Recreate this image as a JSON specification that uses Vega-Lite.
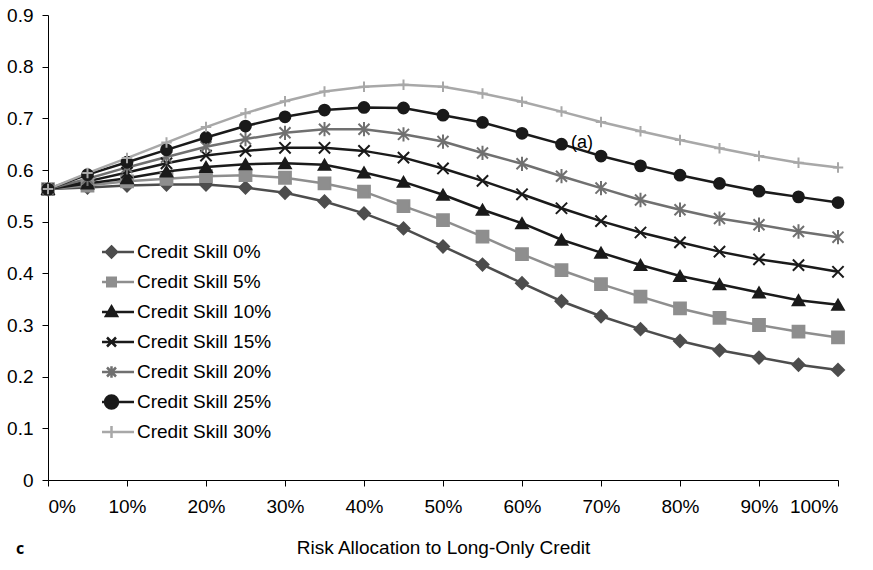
{
  "$schema": "https://vega.github.io/schema/vega-lite/v6.json",
  "width": 790,
  "height": 465,
  "autosize": {"type": "none"},
  "padding": {"left": 48, "top": 15, "right": 35, "bottom": 90},
  "config": {
    "view": {"stroke": null},
    "font": "Liberation Sans",
    "axis": {"grid": false, "domainColor": "#000000", "tickColor": "#000000", "labelColor": "#000000", "titleColor": "#000000", "labelFontSize": 19, "titleFontSize": 19, "titleFontWeight": "normal", "tickSize": 6, "domainWidth": 1, "tickWidth": 1}
  },
  "title": {"text": "c", "orient": "bottom", "anchor": "start", "frame": "group", "font": "Open Sans", "fontWeight": "bold", "fontSize": 16, "color": "#000000", "dx": -32, "offset": -16},
  "resolve": {"scale": {"shape": "independent"}, "legend": {"color": "independent", "shape": "independent", "stroke": "independent"}},
  "datasets": {
    "curves": [
      {"series": "Credit Skill 0%", "x": 0.00, "y": 0.563}, {"series": "Credit Skill 0%", "x": 0.05, "y": 0.566}, {"series": "Credit Skill 0%", "x": 0.10, "y": 0.570}, {"series": "Credit Skill 0%", "x": 0.15, "y": 0.572}, {"series": "Credit Skill 0%", "x": 0.20, "y": 0.572}, {"series": "Credit Skill 0%", "x": 0.25, "y": 0.566}, {"series": "Credit Skill 0%", "x": 0.30, "y": 0.556}, {"series": "Credit Skill 0%", "x": 0.35, "y": 0.539}, {"series": "Credit Skill 0%", "x": 0.40, "y": 0.516}, {"series": "Credit Skill 0%", "x": 0.45, "y": 0.487}, {"series": "Credit Skill 0%", "x": 0.50, "y": 0.452}, {"series": "Credit Skill 0%", "x": 0.55, "y": 0.417}, {"series": "Credit Skill 0%", "x": 0.60, "y": 0.381}, {"series": "Credit Skill 0%", "x": 0.65, "y": 0.346}, {"series": "Credit Skill 0%", "x": 0.70, "y": 0.317}, {"series": "Credit Skill 0%", "x": 0.75, "y": 0.292}, {"series": "Credit Skill 0%", "x": 0.80, "y": 0.269}, {"series": "Credit Skill 0%", "x": 0.85, "y": 0.251}, {"series": "Credit Skill 0%", "x": 0.90, "y": 0.237}, {"series": "Credit Skill 0%", "x": 0.95, "y": 0.223}, {"series": "Credit Skill 0%", "x": 1.00, "y": 0.213},
      {"series": "Credit Skill 5%", "x": 0.00, "y": 0.563}, {"series": "Credit Skill 5%", "x": 0.05, "y": 0.570}, {"series": "Credit Skill 5%", "x": 0.10, "y": 0.578}, {"series": "Credit Skill 5%", "x": 0.15, "y": 0.583}, {"series": "Credit Skill 5%", "x": 0.20, "y": 0.588}, {"series": "Credit Skill 5%", "x": 0.25, "y": 0.590}, {"series": "Credit Skill 5%", "x": 0.30, "y": 0.585}, {"series": "Credit Skill 5%", "x": 0.35, "y": 0.574}, {"series": "Credit Skill 5%", "x": 0.40, "y": 0.558}, {"series": "Credit Skill 5%", "x": 0.45, "y": 0.530}, {"series": "Credit Skill 5%", "x": 0.50, "y": 0.503}, {"series": "Credit Skill 5%", "x": 0.55, "y": 0.471}, {"series": "Credit Skill 5%", "x": 0.60, "y": 0.437}, {"series": "Credit Skill 5%", "x": 0.65, "y": 0.406}, {"series": "Credit Skill 5%", "x": 0.70, "y": 0.379}, {"series": "Credit Skill 5%", "x": 0.75, "y": 0.355}, {"series": "Credit Skill 5%", "x": 0.80, "y": 0.332}, {"series": "Credit Skill 5%", "x": 0.85, "y": 0.314}, {"series": "Credit Skill 5%", "x": 0.90, "y": 0.300}, {"series": "Credit Skill 5%", "x": 0.95, "y": 0.287}, {"series": "Credit Skill 5%", "x": 1.00, "y": 0.276},
      {"series": "Credit Skill 10%", "x": 0.00, "y": 0.563}, {"series": "Credit Skill 10%", "x": 0.05, "y": 0.574}, {"series": "Credit Skill 10%", "x": 0.10, "y": 0.584}, {"series": "Credit Skill 10%", "x": 0.15, "y": 0.597}, {"series": "Credit Skill 10%", "x": 0.20, "y": 0.606}, {"series": "Credit Skill 10%", "x": 0.25, "y": 0.611}, {"series": "Credit Skill 10%", "x": 0.30, "y": 0.613}, {"series": "Credit Skill 10%", "x": 0.35, "y": 0.610}, {"series": "Credit Skill 10%", "x": 0.40, "y": 0.595}, {"series": "Credit Skill 10%", "x": 0.45, "y": 0.577}, {"series": "Credit Skill 10%", "x": 0.50, "y": 0.552}, {"series": "Credit Skill 10%", "x": 0.55, "y": 0.523}, {"series": "Credit Skill 10%", "x": 0.60, "y": 0.497}, {"series": "Credit Skill 10%", "x": 0.65, "y": 0.465}, {"series": "Credit Skill 10%", "x": 0.70, "y": 0.440}, {"series": "Credit Skill 10%", "x": 0.75, "y": 0.416}, {"series": "Credit Skill 10%", "x": 0.80, "y": 0.395}, {"series": "Credit Skill 10%", "x": 0.85, "y": 0.379}, {"series": "Credit Skill 10%", "x": 0.90, "y": 0.363}, {"series": "Credit Skill 10%", "x": 0.95, "y": 0.348}, {"series": "Credit Skill 10%", "x": 1.00, "y": 0.339},
      {"series": "Credit Skill 15%", "x": 0.00, "y": 0.563}, {"series": "Credit Skill 15%", "x": 0.05, "y": 0.578}, {"series": "Credit Skill 15%", "x": 0.10, "y": 0.595}, {"series": "Credit Skill 15%", "x": 0.15, "y": 0.613}, {"series": "Credit Skill 15%", "x": 0.20, "y": 0.628}, {"series": "Credit Skill 15%", "x": 0.25, "y": 0.637}, {"series": "Credit Skill 15%", "x": 0.30, "y": 0.643}, {"series": "Credit Skill 15%", "x": 0.35, "y": 0.643}, {"series": "Credit Skill 15%", "x": 0.40, "y": 0.637}, {"series": "Credit Skill 15%", "x": 0.45, "y": 0.624}, {"series": "Credit Skill 15%", "x": 0.50, "y": 0.603}, {"series": "Credit Skill 15%", "x": 0.55, "y": 0.579}, {"series": "Credit Skill 15%", "x": 0.60, "y": 0.553}, {"series": "Credit Skill 15%", "x": 0.65, "y": 0.526}, {"series": "Credit Skill 15%", "x": 0.70, "y": 0.501}, {"series": "Credit Skill 15%", "x": 0.75, "y": 0.479}, {"series": "Credit Skill 15%", "x": 0.80, "y": 0.460}, {"series": "Credit Skill 15%", "x": 0.85, "y": 0.442}, {"series": "Credit Skill 15%", "x": 0.90, "y": 0.427}, {"series": "Credit Skill 15%", "x": 0.95, "y": 0.416}, {"series": "Credit Skill 15%", "x": 1.00, "y": 0.403},
      {"series": "Credit Skill 20%", "x": 0.00, "y": 0.563}, {"series": "Credit Skill 20%", "x": 0.05, "y": 0.583}, {"series": "Credit Skill 20%", "x": 0.10, "y": 0.605}, {"series": "Credit Skill 20%", "x": 0.15, "y": 0.625}, {"series": "Credit Skill 20%", "x": 0.20, "y": 0.645}, {"series": "Credit Skill 20%", "x": 0.25, "y": 0.660}, {"series": "Credit Skill 20%", "x": 0.30, "y": 0.672}, {"series": "Credit Skill 20%", "x": 0.35, "y": 0.679}, {"series": "Credit Skill 20%", "x": 0.40, "y": 0.679}, {"series": "Credit Skill 20%", "x": 0.45, "y": 0.669}, {"series": "Credit Skill 20%", "x": 0.50, "y": 0.655}, {"series": "Credit Skill 20%", "x": 0.55, "y": 0.633}, {"series": "Credit Skill 20%", "x": 0.60, "y": 0.612}, {"series": "Credit Skill 20%", "x": 0.65, "y": 0.588}, {"series": "Credit Skill 20%", "x": 0.70, "y": 0.565}, {"series": "Credit Skill 20%", "x": 0.75, "y": 0.542}, {"series": "Credit Skill 20%", "x": 0.80, "y": 0.523}, {"series": "Credit Skill 20%", "x": 0.85, "y": 0.506}, {"series": "Credit Skill 20%", "x": 0.90, "y": 0.494}, {"series": "Credit Skill 20%", "x": 0.95, "y": 0.481}, {"series": "Credit Skill 20%", "x": 1.00, "y": 0.470},
      {"series": "Credit Skill 25%", "x": 0.00, "y": 0.563}, {"series": "Credit Skill 25%", "x": 0.05, "y": 0.591}, {"series": "Credit Skill 25%", "x": 0.10, "y": 0.615}, {"series": "Credit Skill 25%", "x": 0.15, "y": 0.639}, {"series": "Credit Skill 25%", "x": 0.20, "y": 0.663}, {"series": "Credit Skill 25%", "x": 0.25, "y": 0.685}, {"series": "Credit Skill 25%", "x": 0.30, "y": 0.703}, {"series": "Credit Skill 25%", "x": 0.35, "y": 0.716}, {"series": "Credit Skill 25%", "x": 0.40, "y": 0.721}, {"series": "Credit Skill 25%", "x": 0.45, "y": 0.720}, {"series": "Credit Skill 25%", "x": 0.50, "y": 0.706}, {"series": "Credit Skill 25%", "x": 0.55, "y": 0.692}, {"series": "Credit Skill 25%", "x": 0.60, "y": 0.671}, {"series": "Credit Skill 25%", "x": 0.65, "y": 0.650}, {"series": "Credit Skill 25%", "x": 0.70, "y": 0.627}, {"series": "Credit Skill 25%", "x": 0.75, "y": 0.608}, {"series": "Credit Skill 25%", "x": 0.80, "y": 0.590}, {"series": "Credit Skill 25%", "x": 0.85, "y": 0.574}, {"series": "Credit Skill 25%", "x": 0.90, "y": 0.559}, {"series": "Credit Skill 25%", "x": 0.95, "y": 0.548}, {"series": "Credit Skill 25%", "x": 1.00, "y": 0.537},
      {"series": "Credit Skill 30%", "x": 0.00, "y": 0.563}, {"series": "Credit Skill 30%", "x": 0.05, "y": 0.594}, {"series": "Credit Skill 30%", "x": 0.10, "y": 0.623}, {"series": "Credit Skill 30%", "x": 0.15, "y": 0.653}, {"series": "Credit Skill 30%", "x": 0.20, "y": 0.683}, {"series": "Credit Skill 30%", "x": 0.25, "y": 0.710}, {"series": "Credit Skill 30%", "x": 0.30, "y": 0.733}, {"series": "Credit Skill 30%", "x": 0.35, "y": 0.752}, {"series": "Credit Skill 30%", "x": 0.40, "y": 0.761}, {"series": "Credit Skill 30%", "x": 0.45, "y": 0.765}, {"series": "Credit Skill 30%", "x": 0.50, "y": 0.761}, {"series": "Credit Skill 30%", "x": 0.55, "y": 0.748}, {"series": "Credit Skill 30%", "x": 0.60, "y": 0.732}, {"series": "Credit Skill 30%", "x": 0.65, "y": 0.713}, {"series": "Credit Skill 30%", "x": 0.70, "y": 0.693}, {"series": "Credit Skill 30%", "x": 0.75, "y": 0.675}, {"series": "Credit Skill 30%", "x": 0.80, "y": 0.658}, {"series": "Credit Skill 30%", "x": 0.85, "y": 0.642}, {"series": "Credit Skill 30%", "x": 0.90, "y": 0.627}, {"series": "Credit Skill 30%", "x": 0.95, "y": 0.614}, {"series": "Credit Skill 30%", "x": 1.00, "y": 0.605}
    ],
    "notes": [{"x": 0.662, "y": 0.652, "label": "(a)"}]
  },
  "layer": [
    {
      "data": {"name": "curves"},
      "mark": {"type": "line", "strokeWidth": 2.5},
      "encoding": {
        "x": {"field": "x", "type": "quantitative", "scale": {"domain": [0, 1], "nice": false}, "axis": {"values": [0, 0.1, 0.2, 0.3, 0.4, 0.5, 0.6, 0.7, 0.8, 0.9, 1], "format": ".0%", "labelPadding": 11, "title": "Risk Allocation to Long-Only Credit", "titlePadding": 22}},
        "y": {"field": "y", "type": "quantitative", "scale": {"domain": [0, 0.9], "nice": false}, "axis": {"values": [0, 0.1, 0.2, 0.3, 0.4, 0.5, 0.6, 0.7, 0.8, 0.9], "format": ".1~f", "labelPadding": 9, "title": null}},
        "color": {"field": "series", "type": "nominal", "sort": null, "legend": null,
          "scale": {"domain": ["Credit Skill 0%", "Credit Skill 5%", "Credit Skill 10%", "Credit Skill 15%", "Credit Skill 20%", "Credit Skill 25%", "Credit Skill 30%"], "range": ["#4d4d4d", "#8e8e8e", "#1a1a1a", "#1a1a1a", "#707070", "#1a1a1a", "#a8a8a8"]}
        }
      }
    },
    {
      "data": {"name": "curves"},
      "mark": {"type": "point", "filled": true, "strokeWidth": 2, "opacity": 1},
      "encoding": {
        "x": {"field": "x", "type": "quantitative"},
        "y": {"field": "y", "type": "quantitative"},
        "color": {"field": "series", "type": "nominal", "sort": null, "legend": null},
        "stroke": {"field": "series", "type": "nominal", "sort": null, "legend": null,
          "scale": {"domain": ["Credit Skill 0%", "Credit Skill 5%", "Credit Skill 10%", "Credit Skill 15%", "Credit Skill 20%", "Credit Skill 25%", "Credit Skill 30%"], "range": ["#4d4d4d", "#8e8e8e", "#1a1a1a", "#1a1a1a", "#707070", "#1a1a1a", "#a8a8a8"]}},
        "shape": {"field": "series", "type": "nominal", "sort": null, "legend": null,
          "scale": {"domain": ["Credit Skill 0%", "Credit Skill 5%", "Credit Skill 10%", "Credit Skill 15%", "Credit Skill 20%", "Credit Skill 25%", "Credit Skill 30%"], "range": ["diamond", "square", "triangle-up", "M-1,-1L1,1M-1,1L1,-1", "M-1,-1L1,1M-1,1L1,-1M0,-1.3V1.3", "circle", "M-1,0H1M0,-1V1"]}},
        "size": {"field": "series", "type": "nominal", "sort": null, "legend": null,
          "scale": {"domain": ["Credit Skill 0%", "Credit Skill 5%", "Credit Skill 10%", "Credit Skill 15%", "Credit Skill 20%", "Credit Skill 25%", "Credit Skill 30%"], "range": [144, 110, 160, 130, 150, 225, 169]}}
      }
    },
    {
      "data": {"name": "curves"},
      "mark": {"type": "point", "filled": true, "opacity": 0},
      "encoding": {
        "x": {"field": "x", "type": "quantitative"},
        "y": {"field": "y", "type": "quantitative"},
        "color": {"field": "series", "type": "nominal", "sort": null,
          "legend": {"orient": "none", "legendX": 54, "legendY": 227, "title": null, "labelFontSize": 19, "labelColor": "#000000", "symbolSize": 100, "symbolStrokeWidth": 2.5, "symbolOpacity": 1, "rowPadding": 10, "clipHeight": 20, "labelOffset": 16}},
        "stroke": {"field": "series", "type": "nominal", "sort": null,
          "legend": {"orient": "none", "legendX": 54, "legendY": 227, "title": null, "labelFontSize": 19, "labelColor": "#000000", "symbolSize": 100, "symbolStrokeWidth": 2.5, "symbolOpacity": 1, "rowPadding": 10, "clipHeight": 20, "labelOffset": 16}},
        "shape": {"field": "series", "type": "nominal", "sort": null,
          "scale": {"domain": ["Credit Skill 0%", "Credit Skill 5%", "Credit Skill 10%", "Credit Skill 15%", "Credit Skill 20%", "Credit Skill 25%", "Credit Skill 30%"], "range": ["M-4.5,0H4.5M0,-1.1L1.1,0L0,1.1L-1.1,0Z", "M-4.5,0H4.5M-0.85,-0.85H0.85V0.85H-0.85Z", "M-4.5,0H4.5M0,-1.1L1.1,0.8H-1.1Z", "M-4.5,0H4.5M-0.9,-0.9L0.9,0.9M-0.9,0.9L0.9,-0.9", "M-4.5,0H4.5M-0.9,-0.9L0.9,0.9M-0.9,0.9L0.9,-0.9M0,-1.15V1.15", "M-4.5,0H4.5M-1.3,0A1.3,1.3 0 1,0 1.3,0A1.3,1.3 0 1,0 -1.3,0Z", "M-4.5,0H4.5M0,-1.2V1.2"]},
          "legend": {"orient": "none", "legendX": 54, "legendY": 227, "title": null, "labelFontSize": 19, "labelColor": "#000000", "symbolSize": 100, "symbolStrokeWidth": 2.5, "symbolOpacity": 1, "rowPadding": 10, "clipHeight": 20, "labelOffset": 16}}
      }
    },
    {
      "data": {"name": "notes"},
      "mark": {"type": "text", "align": "left", "baseline": "middle", "fontSize": 18, "color": "#000000"},
      "encoding": {
        "x": {"field": "x", "type": "quantitative"},
        "y": {"field": "y", "type": "quantitative"},
        "text": {"field": "label"}
      }
    }
  ]
}
